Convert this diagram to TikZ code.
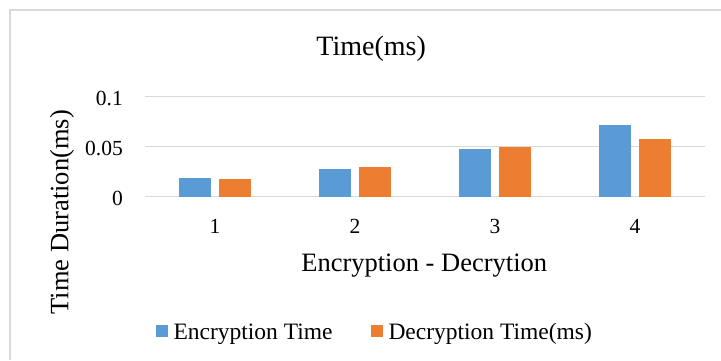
\documentclass[tikz,border=0pt]{standalone}
\usepackage{fontspec}
\setmainfont{Liberation Serif}
\usepackage{xcolor}
\usepackage{tikz}
\definecolor{encblue}{HTML}{5B9BD5}
\definecolor{decorange}{HTML}{ED7D31}
\definecolor{gridgray}{HTML}{D9D9D9}

\begin{document}
\begin{tikzpicture}[x=1pt,y=1pt,
  gl/.style={gridgray,line width=1.5pt}, frm/.style={gridgray,line width=1.6pt},
  enc/.style={fill=encblue}, dec/.style={fill=decorange},
  ticklab/.style={inner sep=0pt,font=\fontsize{21.5}{22}\selectfont},
  axlab/.style={inner sep=0pt,font=\fontsize{26.5}{28}\selectfont},
  leg/.style={inner sep=0pt,font=\fontsize{23.5}{25}\selectfont},
  legbox/.style={inner sep=0pt,minimum size=11.7pt}]
\useasboundingbox (0,0) rectangle (721,360);
\draw[frm] (10,0) -- (10,350) -- (721,350);
% grid and value axis
\foreach \v [count=\k] in {0,0.05,0.1}{
  \draw[gl] (145,{163.3+1000*\v}) -- (705,{163.3+1000*\v});
  \node[ticklab,anchor=base east] (y\k) at (123,{163.3+1000*\v-8.7}) {\v};
}
% bars
\foreach \e/\d [count=\i] in {0.019/0.018,0.028/0.030,0.048/0.050,0.072/0.058}{
  \pgfmathsetmacro\c{75+140*\i}
  \fill[enc] ({\c-35.75},163.3) rectangle ({\c-4.25},{163.3+1000*\e});
  \fill[dec] ({\c+4.25},163.3) rectangle ({\c+35.75},{163.3+1000*\d});
  \node[ticklab,anchor=base] (x\i) at (\c,126.7) {\i};
}
\node[axlab,font=\fontsize{28}{30}\selectfont,anchor=base] (title) at (371.2,304.3) {Time(ms)};
\node[axlab,anchor=base] (xtitle) at (424.2,88.3) {Encryption - Decrytion};
\node[axlab,anchor=base,rotate=90] (ytitle) at (68.3,147.7) {Time Duration(ms)};
% legend
\node[legbox,fill=encblue] (encbox) at (161.9,29.1) {};
\node[leg,anchor=base west] (enctxt) at (173.3,20.7) {Encryption Time};
\node[legbox,fill=decorange] (decbox) at (376.9,29.1) {};
\node[leg,anchor=base west] (dectxt) at (388.3,20.7) {Decryption Time(ms)};
\end{tikzpicture}
\end{document}
